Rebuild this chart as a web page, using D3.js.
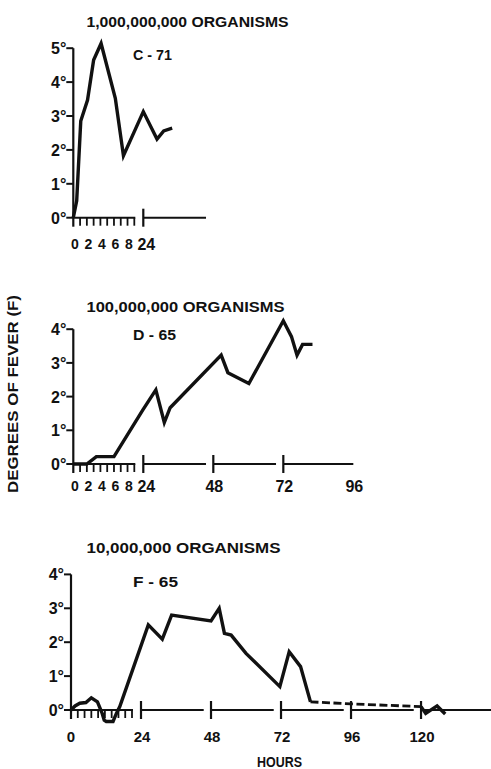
<!DOCTYPE html>
<html>
<head>
<meta charset="utf-8">
<script src="https://cdn.jsdelivr.net/npm/d3@7"></script>
<style>
  html, body { margin: 0; padding: 0; background: #fff; }
  svg { display: block; }
  text { font-family: "Liberation Sans", Arial, sans-serif; font-weight: bold; fill: #111; }
</style>
</head>
<body>
<svg id="chart" width="491" height="769"></svg>
<script>
// Fever response (degrees F above baseline) by hours after inoculation,
// for three doses of organisms.

// --- C-71: 1,000,000,000 organisms ---
const c71Hours = [0, 0.5, 1.1, 2.1, 3.0, 4.1, 6.2, 7.4, 24, 28.7, 31, 33.9];
const c71Temps = [0, 0.5, 2.85, 3.47, 4.65, 5.14, 3.52, 1.83, 3.13, 2.32, 2.56, 2.64];

// --- D-65: 100,000,000 organisms ---
const d65Hours = [0, 2, 3.4, 6, 23, 28.3, 31.2, 33.2, 50.7, 53, 60.2, 72, 74.8, 76.7, 78.6, 82];
const d65Temps = [0, 0, 0.22, 0.22, 1.6, 2.2, 1.23, 1.67, 3.23, 2.71, 2.39, 4.25, 3.78, 3.23, 3.55, 3.55];

// --- F-65: 10,000,000 organisms ---
const f65Hours = [0, 0.6, 1.3, 2.2, 3.0, 3.9, 4.6, 4.9, 5.2, 6.2, 6.7, 7.2, 26.5, 31.3, 34.5, 48, 50.8, 52.6, 54.9, 60, 71.6, 74.8, 78.7, 82.1];
const f65Temps = [0, 0.12, 0.2, 0.22, 0.36, 0.24, -0.1, -0.3, -0.34, -0.34, -0.1, 0.1, 2.51, 2.09, 2.8, 2.63, 3.0, 2.26, 2.21, 1.67, 0.69, 1.72, 1.28, 0.24];
// uncertain readings, drawn dashed
const f65DashHours = [82.1, 96, 120];
const f65DashTemps = [0.24, 0.18, 0.1];
const f65TailHours = [120, 121.6, 125.5, 128.3];
const f65TailTemps = [0.1, -0.1, 0.12, -0.12];

// --- axis ticks and labels ---
const hourTicks = [1, 2, 3, 4, 5, 6, 7, 8, 9];
const earlyLabels = [0, 2, 4, 6, 8];
const dayTicks = [24, 48, 72, 96, 120];
const panelDayLabels = [[24], [24, 48, 72, 96], [24, 48, 72, 96, 120]];
const panelAxisEnds = [45.5, 96, 144];
const panelDegreeMax = [5, 4, 4];
const panelTitles = ["1,000,000,000  ORGANISMS", "100,000,000  ORGANISMS", "10,000,000  ORGANISMS"];
const panelNames = ["C - 71", "D - 65", "F - 65"];
const yAxisTitle = "DEGREES OF FEVER (F)";
const xAxisTitle = "HOURS";

const toPoints = (hs, ts) => hs.map((h, i) => ({ h, t: ts[i] }));

// layout for each panel
const panels = [
  { x0: 73.3, yZero: 217.7, pxPerDeg: 33.9, titleY: 27, nameY: 60, tickLabelY: 250,
    series: [{ pts: toPoints(c71Hours, c71Temps) }], smallEarly: true },
  { x0: 73.3, yZero: 464, pxPerDeg: 33.7, titleY: 312, nameY: 340, tickLabelY: 492,
    series: [{ pts: toPoints(d65Hours, d65Temps) }], smallEarly: true },
  { x0: 71, yZero: 710, pxPerDeg: 33.9, titleY: 553, nameY: 587, tickLabelY: 742,
    series: [
      { pts: toPoints(f65Hours, f65Temps) },
      { pts: toPoints(f65DashHours, f65DashTemps), dashed: true },
      { pts: toPoints(f65TailHours, f65TailTemps) }
    ], smallEarly: false }
];

const svg = d3.select("#chart");

panels.forEach((p, i) => {
  const g = svg.append("g");
  const degMax = panelDegreeMax[i];
  const axisEnd = panelAxisEnds[i];

  // broken time axis: first hours stretched, then compressed days
  const x = d3.scaleLinear()
    .domain([0, 9, 24, 144])
    .range([p.x0, p.x0 + 61, p.x0 + 70, p.x0 + 70 + 120 * 2.917]);
  const y = d3.scaleLinear()
    .domain([0, degMax])
    .range([p.yZero, p.yZero - degMax * p.pxPerDeg]);

  const yTop = y(degMax);

  // y axis
  g.append("line")
    .attr("x1", x(0)).attr("x2", x(0))
    .attr("y1", yTop).attr("y2", p.yZero + 9)
    .attr("stroke", "#111").attr("stroke-width", 2.2);

  const degs = d3.range(0, degMax + 1);
  g.selectAll(".ytick").data(degs).join("line")
    .attr("x1", x(0) - 7).attr("x2", x(0))
    .attr("y1", d => y(d)).attr("y2", d => y(d))
    .attr("stroke", "#111").attr("stroke-width", 2);
  g.selectAll(".ylab").data(degs).join("text")
    .attr("x", x(0) - 7).attr("y", d => y(d) + 6)
    .attr("text-anchor", "end")
    .attr("font-size", 16)
    .text(d => d + "°");

  // early hours segment with hourly ticks
  g.append("line")
    .attr("x1", x(0)).attr("x2", x(9) + 1)
    .attr("y1", p.yZero).attr("y2", p.yZero)
    .attr("stroke", "#111").attr("stroke-width", 2);
  g.selectAll(".htick").data(hourTicks).join("line")
    .attr("x1", d => x(d)).attr("x2", d => x(d))
    .attr("y1", p.yZero).attr("y2", p.yZero + 8)
    .attr("stroke", "#111").attr("stroke-width", 1.8);

  // day segments
  const days = dayTicks.filter(d => d < axisEnd);
  g.selectAll(".dseg").data(days).join("line")
    .attr("x1", d => x(d))
    .attr("x2", d => x(d + 24 < axisEnd ? d + 21.5 : axisEnd))
    .attr("y1", p.yZero).attr("y2", p.yZero)
    .attr("stroke", "#111").attr("stroke-width", 2);
  g.selectAll(".dtick").data(days).join("line")
    .attr("x1", d => x(d)).attr("x2", d => x(d))
    .attr("y1", p.yZero - 9).attr("y2", p.yZero + 9)
    .attr("stroke", "#111").attr("stroke-width", 2.2);

  // tick labels
  if (p.smallEarly) {
    g.selectAll(".elab").data(earlyLabels).join("text")
      .attr("x", d => x(d) + 1.5).attr("y", p.tickLabelY - 1)
      .attr("text-anchor", "middle").attr("font-size", 14)
      .text(d => d);
  } else {
    g.append("text")
      .attr("x", x(0)).attr("y", p.tickLabelY)
      .attr("text-anchor", "middle").attr("font-size", 15)
      .text(0);
  }
  g.selectAll(".dlab").data(panelDayLabels[i]).join("text")
    .attr("x", d => x(d) + (d === 24 && p.smallEarly ? 3 : 1)).attr("y", p.tickLabelY)
    .attr("text-anchor", "middle").attr("font-size", p.smallEarly ? 16 : 15)
    .text(d => d);

  // titles
  g.append("text")
    .attr("x", 86.5).attr("y", p.titleY)
    .attr("font-size", 14)
    .attr("textLength", [202, 198, 194][i]).attr("lengthAdjust", "spacingAndGlyphs")
    .text(panelTitles[i]);
  g.append("text")
    .attr("x", 133).attr("y", p.nameY)
    .attr("font-size", 14)
    .attr("textLength", [39, 43, 45][i]).attr("lengthAdjust", "spacingAndGlyphs")
    .text(panelNames[i]);

  // fever curves
  const line = d3.line().x(d => x(d.h)).y(d => y(d.t));
  p.series.forEach(s => {
    g.append("path")
      .attr("d", line(s.pts))
      .attr("fill", "none")
      .attr("stroke", "#111")
      .attr("stroke-width", s.dashed ? 2.8 : 3.4)
      .attr("stroke-linejoin", "miter")
      .attr("stroke-dasharray", s.dashed ? "8,3.5" : null);
  });
});

// shared axis titles
svg.append("text")
  .attr("transform", "translate(18,394) rotate(-90)")
  .attr("text-anchor", "middle")
  .attr("font-size", 14)
  .attr("textLength", 198).attr("lengthAdjust", "spacingAndGlyphs")
  .text(yAxisTitle);

svg.append("text")
  .attr("x", 279.5).attr("y", 766.5)
  .attr("text-anchor", "middle")
  .attr("font-size", 14)
  .attr("textLength", 45).attr("lengthAdjust", "spacingAndGlyphs")
  .text(xAxisTitle);
</script>
</body>
</html>
